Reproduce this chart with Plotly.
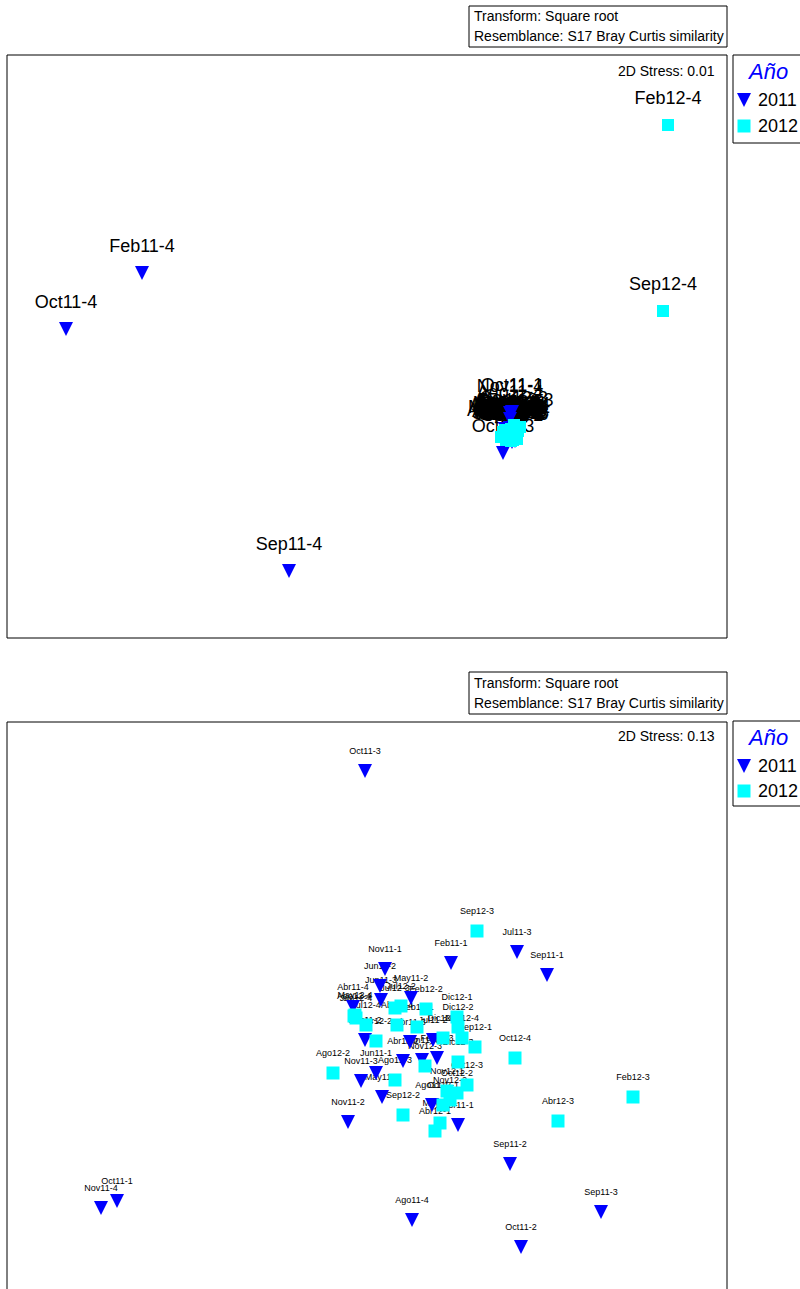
import plotly.graph_objects as go

# ---------------- DATA (positions, plot units) ----------------
# Top panel: all samples
top_2011_names = ["Feb11-4", "Oct11-4", "Sep11-4",
                  "Oct11-3", "Jul11-3", "Sep11-1", "Feb11-1", "Nov11-1", "Jun11-2", "Jun11-3",
                  "May11-2", "Abr11-4", "Feb11-2", "Abr11-3", "Jul11-2", "Abr11-2", "Jun11-4",
                  "Feb11-3", "Jun11-1", "Nov11-3", "May11-1", "Ago11-1", "Abr11-1", "Nov11-2",
                  "Sep11-2", "Oct11-1", "Nov11-4", "Ago11-4", "Sep11-3", "Oct11-2"]
top_2011_x = [142, 66, 289,
              503, 512, 514, 510, 506, 507, 508,
              509, 505, 507, 509, 510, 509, 510,
              511, 508, 507, 508, 510, 511, 507,
              512, 512, 510, 510, 515, 512]
top_2011_y = [273, 329, 571,
              453, 430, 433, 428, 430, 432, 431,
              433, 429, 435, 434, 433, 436, 435,
              434, 436, 437, 438, 437, 438, 439,
              440, 412, 413, 419, 441, 442]

top_2012_names = ["Feb12-4", "Sep12-4",
                  "Sep12-3", "Jul12-3", "Jul12-2", "Feb12-2", "Dic12-1", "Dic12-2", "Ago12-4",
                  "Jun12-4", "May12-4", "Jul12-4", "Abr12-2", "Abr12-4", "Feb12-1", "Dic12-4",
                  "Nov12-4", "Sep12-1", "Oct12-4", "Ago12-2", "Nov12-3", "Dic12-3", "Ago12-3",
                  "Oct12-3", "Oct12-2", "Nov12-1", "Nov12-2", "Oct12-1", "May12-1", "Abr12-1",
                  "Sep12-2", "Abr12-3", "Feb12-3"]
top_2012_x = [668, 663,
              514, 505, 506, 511, 513, 514, 503,
              504, 503, 505, 506, 507, 509, 512,
              514, 516, 518, 501, 509, 513, 506,
              515, 513, 512, 511, 510, 510, 508,
              506, 517, 520]
top_2012_y = [125, 311,
              425, 430, 431, 429, 431, 433, 432,
              433, 434, 434, 436, 433, 432, 435,
              436, 434, 431, 437, 438, 437, 438,
              438, 440, 439, 441, 440, 437, 440,
              440, 439, 427]

# Bottom panel: samples without the five outliers
bot_2011_names = ["Oct11-3", "Jul11-3", "Sep11-1", "Feb11-1", "Nov11-1", "Jun11-2", "Jun11-3",
                  "May11-2", "Abr11-4", "Feb11-2", "Abr11-3", "Jul11-2", "Abr11-2", "Jun11-4",
                  "Feb11-3", "Jun11-1", "Nov11-3", "May11-1", "Ago11-1", "Abr11-1", "Nov11-2",
                  "Sep11-2", "Oct11-1", "Nov11-4", "Ago11-4", "Sep11-3", "Oct11-2"]
bot_2011_x = [365, 517, 547, 451, 385, 380, 381,
              411, 353, 365, 410, 433, 403, 422,
              437, 376, 361, 382, 432, 458, 348,
              510, 117, 101, 412, 601, 521]
bot_2011_y = [771, 952, 975, 963, 969, 986, 1000,
              998, 1007, 1040, 1042, 1040, 1061, 1060,
              1058, 1073, 1081, 1097, 1105, 1125, 1122,
              1164, 1201, 1208, 1220, 1212, 1247]

bot_2012_names = ["Sep12-3", "Jul12-3", "Jul12-2", "Feb12-2", "Dic12-1", "Dic12-2", "Ago12-4",
                  "Jun12-4", "May12-4", "Jul12-4", "Abr12-2", "Abr12-4", "Feb12-1", "Dic12-4",
                  "Nov12-4", "Sep12-1", "Oct12-4", "Ago12-2", "Nov12-3", "Dic12-3", "Ago12-3",
                  "Oct12-3", "Oct12-2", "Nov12-1", "Nov12-2", "Oct12-1", "May12-1", "Abr12-1",
                  "Sep12-2", "Abr12-3", "Feb12-3"]
bot_2012_x = [477, 395, 401, 426, 457, 458, 354,
              356, 355, 366, 376, 397, 417, 443,
              462, 475, 515, 333, 425, 458, 395,
              467, 457, 447, 450, 443, 440, 435,
              403, 558, 633]
bot_2012_y = [931, 1008, 1006, 1009, 1017, 1027, 1016,
              1018, 1015, 1025, 1041, 1025, 1027, 1038,
              1038, 1047, 1058, 1073, 1066, 1062, 1080,
              1085, 1093, 1091, 1100, 1105, 1123, 1131,
              1115, 1121, 1097]

years = ["2011", "2012"]
stress = ["2D Stress: 0.01", "2D Stress: 0.13"]
header = ["Transform: Square root", "Resemblance: S17 Bray Curtis similarity"]

# ---------------- LAYOUT ----------------
W, H = 800, 1289
BLUE, CYAN = "#0000FF", "#00FFFF"
FONT = "Liberation Sans, Arial, sans-serif"


def px(x):
    return x / W


def py(y):
    return 1 - y / H


def tri_marker(size):
    # downward triangle about as tall as it is wide, centred on the point
    return dict(symbol="arrow-down", angle=0, standoff=size / 2, size=size,
                color=BLUE, line=dict(width=0))


fig = go.Figure()

panels = [
    dict(xa="x", ya="y", n1=top_2011_names, x1=top_2011_x, y1=top_2011_y,
         n2=top_2012_names, x2=top_2012_x, y2=top_2012_y, fs=18, off=26, tri=14, sq=12),
    dict(xa="x2", ya="y2", n1=bot_2011_names, x1=bot_2011_x, y1=bot_2011_y,
         n2=bot_2012_names, x2=bot_2012_x, y2=bot_2012_y, fs=9, off=19, tri=14, sq=13),
]

for p in panels:
    # labels first, then markers on top (as in the original)
    for names, xs, ys in [(p["n1"], p["x1"], p["y1"]), (p["n2"], p["x2"], p["y2"])]:
        fig.add_trace(go.Scatter(
            x=xs, y=[v - p["off"] for v in ys], text=names, mode="text",
            textposition="middle center",
            textfont=dict(family=FONT, size=p["fs"], color="black"),
            xaxis=p["xa"], yaxis=p["ya"], showlegend=False, hoverinfo="skip",
            cliponaxis=False))
    fig.add_trace(go.Scatter(
        x=p["x1"], y=p["y1"], mode="markers", name=years[0],
        marker=tri_marker(p["tri"]),
        xaxis=p["xa"], yaxis=p["ya"], showlegend=False))
    fig.add_trace(go.Scatter(
        x=p["x2"], y=p["y2"], mode="markers", name=years[1],
        marker=dict(symbol="square", size=p["sq"], color=CYAN, line=dict(width=0)),
        xaxis=p["xa"], yaxis=p["ya"], showlegend=False))

# legend keys (custom legend, drawn in an overlay axis spanning the page)
leg_rows = [(100, 126), (766, 791)]
for r in leg_rows:
    fig.add_trace(go.Scatter(x=[744], y=[r[0]], mode="markers", xaxis="x3", yaxis="y3",
                             marker=tri_marker(14),
                             showlegend=False, hoverinfo="skip", cliponaxis=False))
    fig.add_trace(go.Scatter(x=[744], y=[r[1]], mode="markers", xaxis="x3", yaxis="y3",
                             marker=dict(symbol="square", size=13, color=CYAN, line=dict(width=0)),
                             showlegend=False, hoverinfo="skip", cliponaxis=False))

hidden = dict(visible=False, showgrid=False, zeroline=False)
fig.update_layout(
    width=W, height=H, margin=dict(l=0, r=0, t=0, b=0),
    paper_bgcolor="white", plot_bgcolor="rgba(0,0,0,0)", showlegend=False,
    xaxis=dict(domain=[px(7), px(727)], range=[7, 727], **hidden),
    yaxis=dict(domain=[py(638), py(55)], range=[638, 55], **hidden),
    xaxis2=dict(domain=[px(7), px(727)], range=[7, 727], anchor="y2", **hidden),
    yaxis2=dict(domain=[0, py(722)], range=[1289, 722], anchor="x2", **hidden),
    xaxis3=dict(domain=[0, 1], range=[0, W], anchor="y3", **hidden),
    yaxis3=dict(domain=[0, 1], range=[H, 0], anchor="x3", **hidden),
)

shapes = []
annotations = []
geo = [
    dict(pt=55, pb=638, ht=6, hb=47, lt=55, lb=143, sy=71, ay=71, r1=100, r2=126, h1=16, h2=36),
    dict(pt=722, pb=1300, ht=672, hb=714, lt=721, lb=806, sy=736, ay=737, r1=766, r2=791, h1=683, h2=703),
]
for i, g in enumerate(geo):
    line = dict(color="black", width=1)
    shapes.append(dict(type="rect", xref="paper", yref="paper", x0=px(7), x1=px(727),
                       y0=py(g["pb"]), y1=py(g["pt"]), line=line, layer="above"))
    shapes.append(dict(type="rect", xref="paper", yref="paper", x0=px(469), x1=px(727),
                       y0=py(g["hb"]), y1=py(g["ht"]), line=line))
    shapes.append(dict(type="rect", xref="paper", yref="paper", x0=px(733), x1=px(801),
                       y0=py(g["lb"]), y1=py(g["lt"]), line=line))
    for txt, yy in [(header[0], g["h1"]), (header[1], g["h2"])]:
        annotations.append(dict(text=txt, xref="paper", yref="paper", x=px(472), y=py(yy),
                                xanchor="left", yanchor="middle", showarrow=False,
                                font=dict(family=FONT, size=14, color="black")))
    annotations.append(dict(text=stress[i], xref="paper", yref="paper", x=px(717), y=py(g["sy"]),
                            xanchor="right", yanchor="middle", showarrow=False,
                            font=dict(family=FONT, size=14, color="black")))
    annotations.append(dict(text="Año", xref="paper", yref="paper", x=px(767), y=py(g["ay"]),
                            xanchor="center", yanchor="middle", showarrow=False,
                            font=dict(family=FONT, size=22, color=BLUE, style="italic")))
    for yr, yy in [(years[0], g["r1"]), (years[1], g["r2"])]:
        annotations.append(dict(text=yr, xref="paper", yref="paper", x=px(756), y=py(yy),
                                xanchor="left", yanchor="middle", showarrow=False,
                                font=dict(family=FONT, size=18, color="black")))

fig.update_layout(shapes=shapes, annotations=annotations)
fig.write_html("out.html", config={"displayModeBar": False},
               post_script="document.body.style.margin='0';")
